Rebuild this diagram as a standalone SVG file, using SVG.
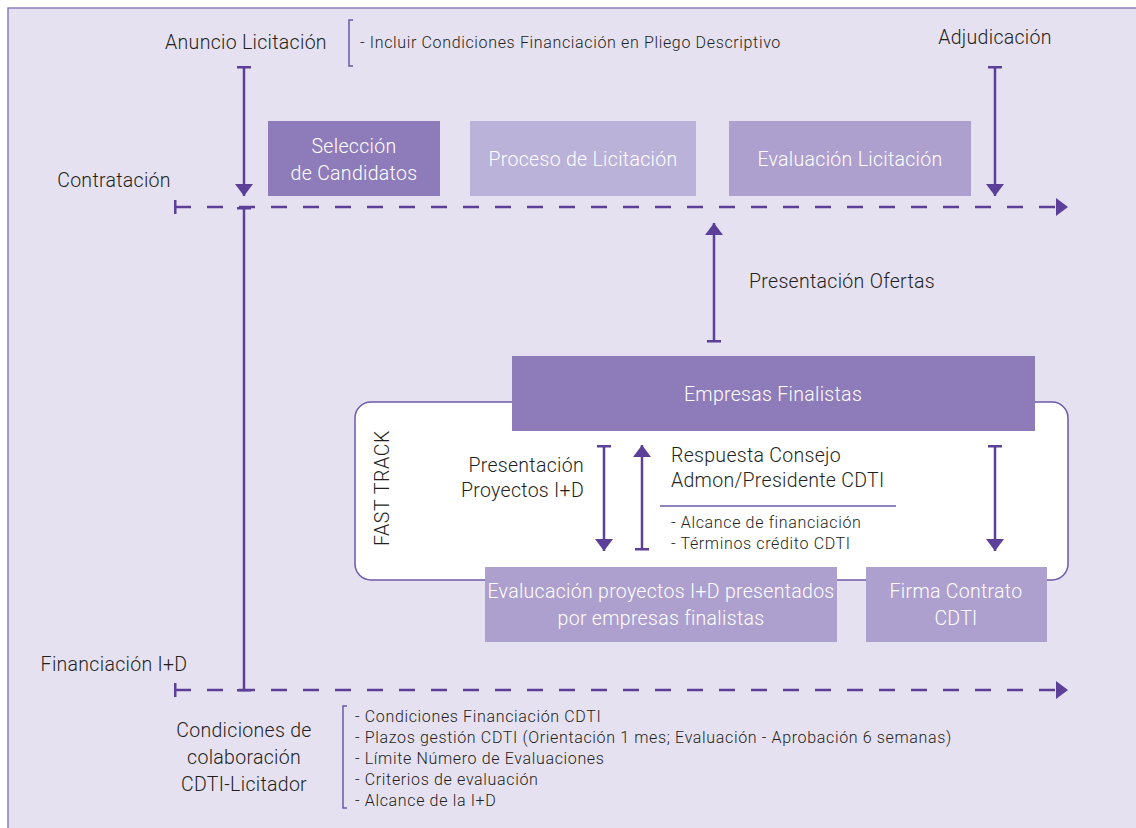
<svg xmlns="http://www.w3.org/2000/svg" width="1136" height="828" viewBox="0 0 1136 828">
<style>
text{font-family:Roboto,"Liberation Sans",sans-serif;font-weight:300;fill:#231F20}
.lbl{font-size:19.5px;letter-spacing:0.3px}
.sm{font-size:16px;letter-spacing:0.65px}
.bx{font-size:19.5px;letter-spacing:0.3px;fill:#FFFFFF;text-anchor:middle}
.ln{stroke:#5B3F99;stroke-width:2.5;fill:none}
.dash{stroke:#5B3F99;stroke-width:2.5;fill:none;stroke-dasharray:16 16}
.thin{stroke:#6E58A8;stroke-width:1.5;fill:none}
.dark{fill:#8E7CBA}
.mid{fill:#ADA0CE}
.light{fill:#BBB2DA}
</style>
<defs>
<marker id="head" viewBox="0 0 12 18" refX="12" refY="9" markerWidth="12" markerHeight="18" markerUnits="userSpaceOnUse" orient="auto">
<path d="M0,0 L12,9 L0,18 Z" fill="#5B3F99"/>
</marker>
<marker id="bar" viewBox="0 0 3 14" refX="1.5" refY="7" markerWidth="3" markerHeight="14" markerUnits="userSpaceOnUse" orient="auto">
<rect x="0" y="0" width="3" height="14" fill="#5B3F99"/>
</marker>
</defs>
<rect x="0" y="0" width="1136" height="828" fill="#FFFFFF"/>
<rect x="8" y="8" width="1140" height="840" fill="#E6E1F1" stroke="#8E7CBA" stroke-width="1.5"/>

<g id="fasttrack">
<rect x="355" y="402" width="713" height="178" rx="16" fill="#FFFFFF" stroke="#6E58A8" stroke-width="1.5"/>
<text x="0" y="0" transform="translate(389,488) rotate(-90)" text-anchor="middle" style="font-size:19.5px;letter-spacing:0.6px">FAST TRACK</text>
</g>

<g id="labels">
<text class="lbl" x="246" y="49" text-anchor="middle">Anuncio Licitación</text>
<text class="lbl" x="995" y="44" text-anchor="middle">Adjudicación</text>
<text class="lbl" x="114" y="187" text-anchor="middle">Contratación</text>
<text class="lbl" x="114" y="671" text-anchor="middle">Financiación I+D</text>
<text class="lbl" x="749" y="288">Presentación Ofertas</text>
<text class="lbl" x="584" y="472" text-anchor="end">Presentación</text>
<text class="lbl" x="584" y="497" text-anchor="end">Proyectos I+D</text>
<text class="lbl" x="671" y="462">Respuesta Consejo</text>
<text class="lbl" x="671" y="487">Admon/Presidente CDTI</text>
<text class="sm" x="671" y="528">- Alcance de financiación</text>
<text class="sm" x="671" y="549">- Términos crédito CDTI</text>
<text class="lbl" x="244" y="737" text-anchor="middle">Condiciones de</text>
<text class="lbl" x="244" y="764" text-anchor="middle">colaboración</text>
<text class="lbl" x="244" y="791" text-anchor="middle">CDTI-Licitador</text>
</g>

<g id="note-top">
<path class="thin" d="M353,20 H349 V66 H353"/>
<text class="sm" x="360" y="48">- Incluir Condiciones Financiación en Pliego Descriptivo</text>
</g>

<g id="note-bottom">
<path class="thin" d="M347,706 H343 V808 H347"/>
<text class="sm" x="355" y="722">- Condiciones Financiación CDTI</text>
<text class="sm" x="355" y="743">- Plazos gestión CDTI (Orientación 1 mes; Evaluación - Aprobación 6 semanas)</text>
<text class="sm" x="355" y="764">- Límite Número de Evaluaciones</text>
<text class="sm" x="355" y="785">- Criterios de evaluación</text>
<text class="sm" x="355" y="806">- Alcance de la I+D</text>
</g>

<g id="seleccion">
<rect class="dark" x="268" y="121" width="172" height="75"/>
<text class="bx" x="354" y="153">Selección</text>
<text class="bx" x="354" y="180">de Candidatos</text>
</g>
<g id="proceso">
<rect class="light" x="470" y="121" width="226" height="75"/>
<text class="bx" x="583" y="166">Proceso de Licitación</text>
</g>
<g id="evaluacion">
<rect class="mid" x="729" y="121" width="242" height="75"/>
<text class="bx" x="850" y="166">Evaluación Licitación</text>
</g>
<g id="empresas">
<rect class="dark" x="512" y="356" width="523" height="75"/>
<text class="bx" x="773" y="401">Empresas Finalistas</text>
</g>
<g id="evalproyectos">
<rect class="mid" x="485" y="567" width="352" height="75"/>
<text class="bx" x="661" y="598">Evalucación proyectos I+D presentados</text>
<text class="bx" x="661" y="625">por empresas finalistas</text>
</g>
<g id="firma">
<rect class="mid" x="866" y="567" width="181" height="75"/>
<text class="bx" x="956" y="598">Firma Contrato</text>
<text class="bx" x="956" y="625">CDTI</text>
</g>

<g id="connectors">
<line class="dash" x1="175" y1="207" x2="1068" y2="207" marker-start="url(#bar)" marker-end="url(#head)"/>
<line class="dash" x1="175" y1="690" x2="1068" y2="690" marker-start="url(#bar)" marker-end="url(#head)"/>
<line class="ln" x1="244" y1="67" x2="244" y2="196" marker-start="url(#bar)" marker-end="url(#head)"/>
<line class="ln" x1="995" y1="67" x2="995" y2="196" marker-start="url(#bar)" marker-end="url(#head)"/>
<line class="ln" x1="244" y1="208" x2="244" y2="690" marker-start="url(#bar)" marker-end="url(#bar)"/>
<line class="ln" x1="714" y1="341" x2="714" y2="223" marker-start="url(#bar)" marker-end="url(#head)"/>
<line class="ln" x1="604" y1="446" x2="604" y2="551" marker-start="url(#bar)" marker-end="url(#head)"/>
<line class="ln" x1="642" y1="549" x2="642" y2="445" marker-start="url(#bar)" marker-end="url(#head)"/>
<line class="ln" x1="995" y1="446" x2="995" y2="551" marker-start="url(#bar)" marker-end="url(#head)"/>
<line stroke="#6E58A8" stroke-width="1.5" x1="660" y1="506" x2="896" y2="506"/>
</g>
</svg>
